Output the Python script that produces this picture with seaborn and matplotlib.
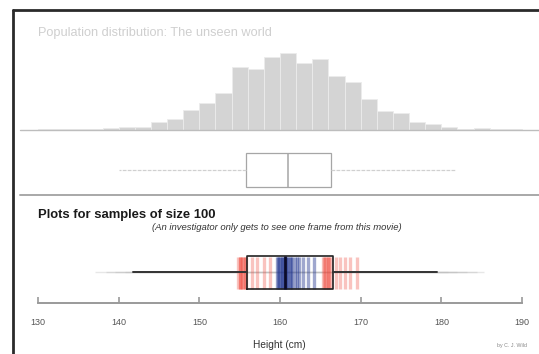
import matplotlib
matplotlib.use("Agg")
import matplotlib.pyplot as plt
from matplotlib.lines import Line2D
import pandas as pd
import seaborn as sns

# population histogram (2 cm bins, relative counts)
bin_edges = list(range(130, 192, 2))
pop_counts = [2, 2, 3, 3, 7, 8, 10, 25, 32, 60, 80, 112, 188, 182, 220, 232,
              200, 214, 162, 144, 92, 57, 50, 25, 18, 8, 3, 6, 2, 2]

# population box plot
pop_box = dict(whislo=140.1, q1=155.8, med=161.0, q3=166.3, whishi=181.8)

# current sample of size 100
cur_box = dict(whislo=141.8, q1=155.9, med=160.6, q3=166.6, whishi=179.5)

# earlier samples (ghosts)
past_q1 = [154.8, 155.0, 155.2, 155.4, 155.6, 155.8, 155.0, 155.3, 155.7,
           156.5, 157.2, 158.0, 158.8]
past_med = [159.6, 159.8, 160.0, 160.2, 160.4, 160.6, 160.8, 161.0, 161.2,
            161.5, 161.8, 162.1, 162.4, 162.9, 163.5, 164.2, 159.9, 160.3,
            160.9, 161.4]
past_q3 = [165.3, 165.5, 165.7, 165.9, 166.1, 166.3, 165.6, 166.0,
           166.9, 167.4, 168.0, 168.7, 169.5]
past_lo = [137.1, 138.4, 139.6, 140.8, 142.5]
past_hi = [180.8, 182.0, 183.2, 184.4, 185.3]

x_ticks = [130, 140, 150, 160, 170, 180, 190]

W, H = 539, 354
FONT = "Liberation Sans"
sns.set_theme(style="white")
plt.rcParams["font.family"] = [FONT, "DejaVu Sans"]

fig = plt.figure(figsize=(W / 100, H / 100), dpi=100)

PX_L, PX_R = 38, 522  # pixels of 130 and 190
cm_per_px = 60 / (PX_R - PX_L)
XLIM = (130 - (PX_L - 20) * cm_per_px, 190 + (W - PX_R) * cm_per_px)


def add_ax(top, bottom):
    a = fig.add_axes([20 / W, 1 - bottom / H, (W - 20) / W, (bottom - top) / H])
    a.set_xlim(*XLIM)
    a.patch.set_alpha(0)
    for s in a.spines.values():
        s.set_visible(False)
    a.set_xticks([])
    a.set_yticks([])
    return a


def fig_line(x0, x1, y0, y1, **kw):
    fig.add_artist(Line2D([x0 / W, x1 / W], [1 - y0 / H, 1 - y1 / H],
                          transform=fig.transFigure, **kw))


# --- population histogram
ax1 = add_ax(50, 130)
centers = [e + 1 for e in bin_edges[:-1]]
df = pd.DataFrame({"height": centers, "n": pop_counts})
sns.histplot(data=df, x="height", weights="n", bins=bin_edges, ax=ax1,
             color="#d4d4d4", edgecolor="#ececec", linewidth=0.6, alpha=1)
ax1.set_ylim(0, 240)
ax1.set_xlim(*XLIM)
ax1.set_xlabel("")
ax1.set_ylabel("")
ax1.set_xticks([])
ax1.set_yticks([])

# --- population box plot
ax2 = add_ax(150, 190)
ax2.set_ylim(-20, 20)
ax2.bxp([dict(pop_box, fliers=[])], positions=[0], widths=34, vert=False,
        showfliers=False, manage_ticks=False, patch_artist=True,
        boxprops=dict(facecolor="white", edgecolor="#a6a6a6", linewidth=0.9),
        medianprops=dict(color="#a6a6a6", linewidth=1.1),
        whiskerprops=dict(color="#d0d0d0", linewidth=0.9, linestyle=(0, (3, 1))),
        capprops=dict(linewidth=0))

# --- sample panel
ax3 = add_ax(245, 303)
ax3.set_ylim(-30, 28)
ax3.hlines([1] * len(past_lo), past_lo, past_hi, color="#bbbbbb", alpha=0.35,
           linewidth=1.0)
ax3.vlines(past_q1, -16, 16, color="#ee3b2e", alpha=0.3, linewidth=2.4)
ax3.vlines(past_q3, -16, 16, color="#ee3b2e", alpha=0.3, linewidth=2.4)
ax3.vlines(past_med, -16, 16, color="#1a2f8c", alpha=0.42, linewidth=2.4)
ax3.bxp([dict(cur_box, fliers=[])], positions=[1], widths=33, vert=False,
        showfliers=False, manage_ticks=False,
        boxprops=dict(color="#222222", linewidth=1.2),
        medianprops=dict(color="#0b0b2a", linewidth=2.0),
        whiskerprops=dict(color="#333333", linewidth=1.4),
        capprops=dict(linewidth=0))

ax3.spines["bottom"].set_visible(True)
ax3.spines["bottom"].set_bounds(130, 190)
ax3.spines["bottom"].set_color("#9a9a9a")
ax3.spines["bottom"].set_linewidth(1.4)
ax3.set_xticks(x_ticks)
ax3.set_xticklabels([str(t) for t in x_ticks])
ax3.tick_params(axis="x", direction="in", length=4, width=1.2, color="#9a9a9a",
                labelsize=6.5, labelcolor="#555555", pad=11, bottom=True)
ax3.set_xlabel("Height (cm)", fontsize=7.3, color="#333333", labelpad=9)

# --- frame, separators and texts
fig_line(13, 13, 10, H, color="#2a2a2a", linewidth=2)
fig_line(13, W, 10, 10, color="#2a2a2a", linewidth=2)
fig_line(20, W, 130, 130, color="#bdbdbd", linewidth=1)
fig_line(20, W, 195, 195, color="#a8a8a8", linewidth=1.4)

fig.text(38 / W, 1 - 33 / H, "Population distribution: The unseen world",
         fontsize=9.2, color="#cfcfcf", va="center", ha="left")
fig.text(38 / W, 1 - 215 / H, "Plots for samples of size 100", fontsize=9.4,
         fontweight="bold", color="#1a1a1a", va="center", ha="left")
fig.text(277 / W, 1 - 228 / H,
         "(An investigator only gets to see one frame from this movie)",
         fontsize=6.8, style="italic", color="#333333", va="center", ha="center")
fig.text(512 / W, 1 - 345 / H, "by C. J. Wild", fontsize=3.8, color="#888888",
         va="center", ha="center")

fig.savefig("out.png", dpi=100, facecolor="white")
